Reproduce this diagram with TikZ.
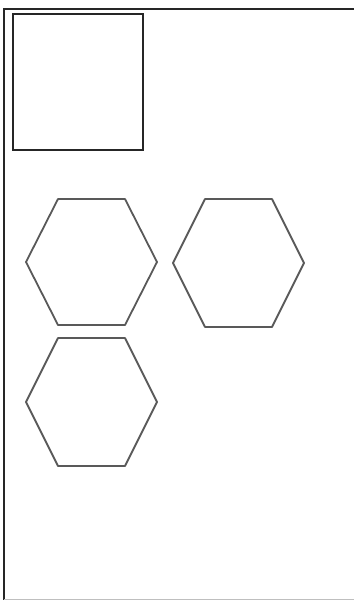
\documentclass[tikz,border=0pt]{standalone}
\tikzset{
  frameline/.style={draw=black!85, line width=2.2pt},
  hexcell/.style={draw=black!65, line width=1.8pt, line join=round},
}
\begin{document}
\begin{tikzpicture}[x=1pt,y=-1pt]
\useasboundingbox (0,0) rectangle (354,600);
% page frame
\draw[frameline] (4,600) -- (4,9) -- (354,9);
\draw[black!25, line width=1pt] (4,599) -- (354,599);
% square
\draw[frameline] (13,14) rectangle (143,150);
% hexagons
\foreach \cx/\cy/\hh in {91.5/262/63, 238.5/263/64, 91.5/402/64}
  \draw[hexcell] (\cx-65.5,\cy) -- (\cx-33.5,\cy-\hh) -- (\cx+33.5,\cy-\hh)
    -- (\cx+65.5,\cy) -- (\cx+33.5,\cy+\hh) -- (\cx-33.5,\cy+\hh) -- cycle;
\end{tikzpicture}
\end{document}
